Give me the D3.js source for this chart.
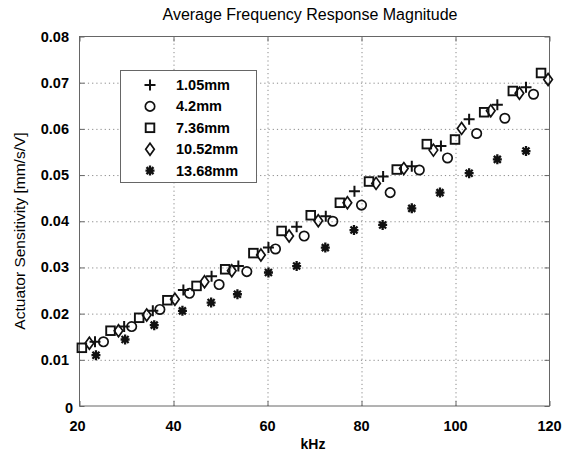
<!DOCTYPE html>
<html>
<head>
<meta charset="utf-8">
<script src="https://cdn.jsdelivr.net/npm/d3@7"></script>
<style>
  body { margin: 0; background: #fff; }
  svg { display: block; font-family: "Liberation Sans", Arial, sans-serif; }
</style>
</head>
<body>
<div class="chart"></div>
<script>
// tick labels
var xTicks = [20, 40, 60, 80, 100, 120];
var yTicks = [0, 0.01, 0.02, 0.03, 0.04, 0.05, 0.06, 0.07, 0.08];

// series names and marker types
var seriesNames = ["1.05mm", "4.2mm", "7.36mm", "10.52mm", "13.68mm"];
var seriesMarkers = ["plus", "circle", "square", "diamond", "asterisk"];

// 1.05mm
var freq105 = [23.3, 29.5, 35.6, 42.1, 48.1, 53.8, 60.2, 66.2, 72.4, 78.5, 84.6, 90.7, 96.9, 102.9, 108.9, 115.0];
var sens105 = [0.0139, 0.0172, 0.0206, 0.0251, 0.0281, 0.0303, 0.0343, 0.0388, 0.0411, 0.0465, 0.0497, 0.0519, 0.0563, 0.0621, 0.0652, 0.0690];
// 4.2mm
var freq42 = [25.1, 31.1, 37.1, 43.4, 49.7, 55.6, 61.7, 67.8, 73.9, 80.0, 86.1, 92.3, 98.3, 104.5, 110.5, 116.6];
var sens42 = [0.0139, 0.0172, 0.0209, 0.0244, 0.0263, 0.0291, 0.0340, 0.0368, 0.0400, 0.0435, 0.0462, 0.0511, 0.0537, 0.0590, 0.0623, 0.0675];
// 7.36mm
var freq736 = [20.5, 26.6, 32.7, 38.7, 44.9, 51.0, 57.0, 63.0, 69.2, 75.4, 81.6, 87.5, 93.9, 99.9, 106.1, 112.2, 118.2];
var sens736 = [0.0126, 0.0163, 0.0191, 0.0229, 0.0260, 0.0296, 0.0331, 0.0379, 0.0413, 0.0440, 0.0486, 0.0512, 0.0567, 0.0577, 0.0636, 0.0682, 0.0721];
// 10.52mm
var freq1052 = [22.1, 28.3, 34.3, 40.3, 46.6, 52.4, 58.6, 64.6, 70.8, 77.0, 83.1, 89.0, 95.3, 101.3, 107.5, 113.6, 119.7];
var sens1052 = [0.0136, 0.0163, 0.0197, 0.0231, 0.0269, 0.0293, 0.0327, 0.0368, 0.0401, 0.0440, 0.0482, 0.0514, 0.0554, 0.0601, 0.0639, 0.0677, 0.0707];
// 13.68mm
var freq1368 = [23.5, 29.7, 35.9, 41.9, 48.0, 53.6, 60.2, 66.2, 72.3, 78.4, 84.5, 90.7, 96.7, 102.9, 108.9, 115.0];
var sens1368 = [0.0110, 0.0144, 0.0175, 0.0206, 0.0224, 0.0242, 0.0289, 0.0303, 0.0343, 0.0381, 0.0392, 0.0428, 0.0462, 0.0504, 0.0534, 0.0552];

var seriesFreq = [freq105, freq42, freq736, freq1052, freq1368];
var seriesSens = [sens105, sens42, sens736, sens1052, sens1368];

var width = 564, height = 452;
var plotLeft = 79.5, plotRight = 549.5, plotTop = 36.5, plotBottom = 406;

var svg = d3.select(".chart")
  .append("svg")
  .attr("width", width)
  .attr("height", height);

var x = d3.scaleLinear().domain([20, 120]).range([plotLeft, plotRight]);
var y = d3.scaleLinear().domain([0, 0.08]).range([plotBottom, plotTop]);

// grid
var xGrid = g => g
  .attr("transform", `translate(0,${plotBottom})`)
  .call(d3.axisBottom(x).tickValues(xTicks.slice(1, -1)).tickSize(-(plotBottom - plotTop)).tickFormat(""))
  .call(g => g.select(".domain").remove())
  .call(g => g.selectAll("line").attr("stroke", "#8a8a8a").attr("stroke-dasharray", "1.2,3"));

var yGrid = g => g
  .attr("transform", `translate(${plotLeft},0)`)
  .call(d3.axisLeft(y).tickValues(yTicks.slice(1, -1)).tickSize(-(plotRight - plotLeft)).tickFormat(""))
  .call(g => g.select(".domain").remove())
  .call(g => g.selectAll("line").attr("stroke", "#8a8a8a").attr("stroke-dasharray", "1.2,3"));

svg.append("g").call(xGrid);
svg.append("g").call(yGrid);

// inward ticks on all four sides
var tickStyle = g => g
  .call(g => g.select(".domain").remove())
  .call(g => g.selectAll("line").attr("stroke", "#666"))
  .call(g => g.selectAll("text").remove());

svg.append("g").attr("transform", `translate(0,${plotBottom})`)
  .call(d3.axisBottom(x).tickValues(xTicks).tickSize(-5)).call(tickStyle);
svg.append("g").attr("transform", `translate(0,${plotTop})`)
  .call(d3.axisTop(x).tickValues(xTicks).tickSize(-5)).call(tickStyle);
svg.append("g").attr("transform", `translate(${plotLeft},0)`)
  .call(d3.axisLeft(y).tickValues(yTicks).tickSize(-5)).call(tickStyle);
svg.append("g").attr("transform", `translate(${plotRight},0)`)
  .call(d3.axisRight(y).tickValues(yTicks).tickSize(-5)).call(tickStyle);

// box
svg.append("rect")
  .attr("x", plotLeft).attr("y", plotTop)
  .attr("width", plotRight - plotLeft).attr("height", plotBottom - plotTop)
  .attr("fill", "none").attr("stroke", "#666").attr("stroke-width", 1);

// tick labels
svg.append("g").selectAll("text")
  .data(xTicks)
  .enter()
  .append("text")
  .attr("x", d => x(d) - (d == 20 ? 2 : 0))
  .attr("y", 431)
  .attr("text-anchor", "middle")
  .attr("font-size", 14.5).attr("font-weight", "bold")
  .text(d => d);

svg.append("g").selectAll("text")
  .data(yTicks)
  .enter()
  .append("text")
  .attr("x", d => d == 0 ? 73 : 69)
  .attr("y", d => y(d) + 5 + (d == 0 ? 2 : 0))
  .attr("text-anchor", "end")
  .attr("font-size", 14.5).attr("font-weight", "bold")
  .text(d => d == 0 ? "0" : d.toFixed(2));

// titles
svg.append("text")
  .attr("x", 310).attr("y", 20)
  .attr("text-anchor", "middle")
  .attr("font-size", 16)
  .text("Average Frequency Response Magnitude");

svg.append("text")
  .attr("x", 313).attr("y", 449)
  .attr("text-anchor", "middle")
  .attr("font-size", 14).attr("font-weight", "bold")
  .text("kHz");

svg.append("text")
  .attr("transform", "translate(25,231) rotate(-90)")
  .attr("text-anchor", "middle")
  .attr("font-size", 15.5)
  .text("Actuator Sensitivity [mm/s/V]");

// markers
function drawMarker(g, type) {
  g.attr("fill", "none").attr("stroke", "#111").attr("stroke-width", 1.7);
  if (type == "plus") {
    g.append("path").attr("d", "M-5.5,0H5.5M0,-5.5V5.5").attr("stroke-width", 2);
  } else if (type == "circle") {
    g.append("circle").attr("r", 4.7);
  } else if (type == "square") {
    g.append("rect").attr("x", -4.3).attr("y", -4.3).attr("width", 8.6).attr("height", 8.6).attr("stroke-width", 1.9);
  } else if (type == "diamond") {
    g.append("path").attr("d", "M0,-6L4.3,0L0,6L-4.3,0Z");
  } else if (type == "asterisk") {
    g.append("path").attr("d", "M-4.5,0H4.5M0,-5V5M-3.5,-3.5L3.5,3.5M-3.5,3.5L3.5,-3.5").attr("stroke-width", 2.3);
  }
}

seriesNames.forEach(function (name, i) {
  var pts = seriesFreq[i].map((f, j) => ({ f: f, v: seriesSens[i][j] }));
  svg.append("g").selectAll("g")
    .data(pts)
    .enter()
    .append("g")
    .attr("transform", d => `translate(${x(d.f)},${y(d.v)})`)
    .each(function () { drawMarker(d3.select(this), seriesMarkers[i]); });
});

// legend
var legend = svg.append("g");
legend.append("rect")
  .attr("x", 120.5).attr("y", 70.5)
  .attr("width", 136).attr("height", 112)
  .attr("fill", "#fff").attr("stroke", "#666");

seriesNames.forEach(function (name, i) {
  var ly = 85 + i * 21.4;
  legend.append("g")
    .attr("transform", `translate(150,${ly})`)
    .call(g => drawMarker(g, seriesMarkers[i]));
  legend.append("text")
    .attr("x", 176).attr("y", ly + 5)
    .attr("font-size", 14.5).attr("font-weight", "bold")
    .text(name);
});
</script>
</body>
</html>
